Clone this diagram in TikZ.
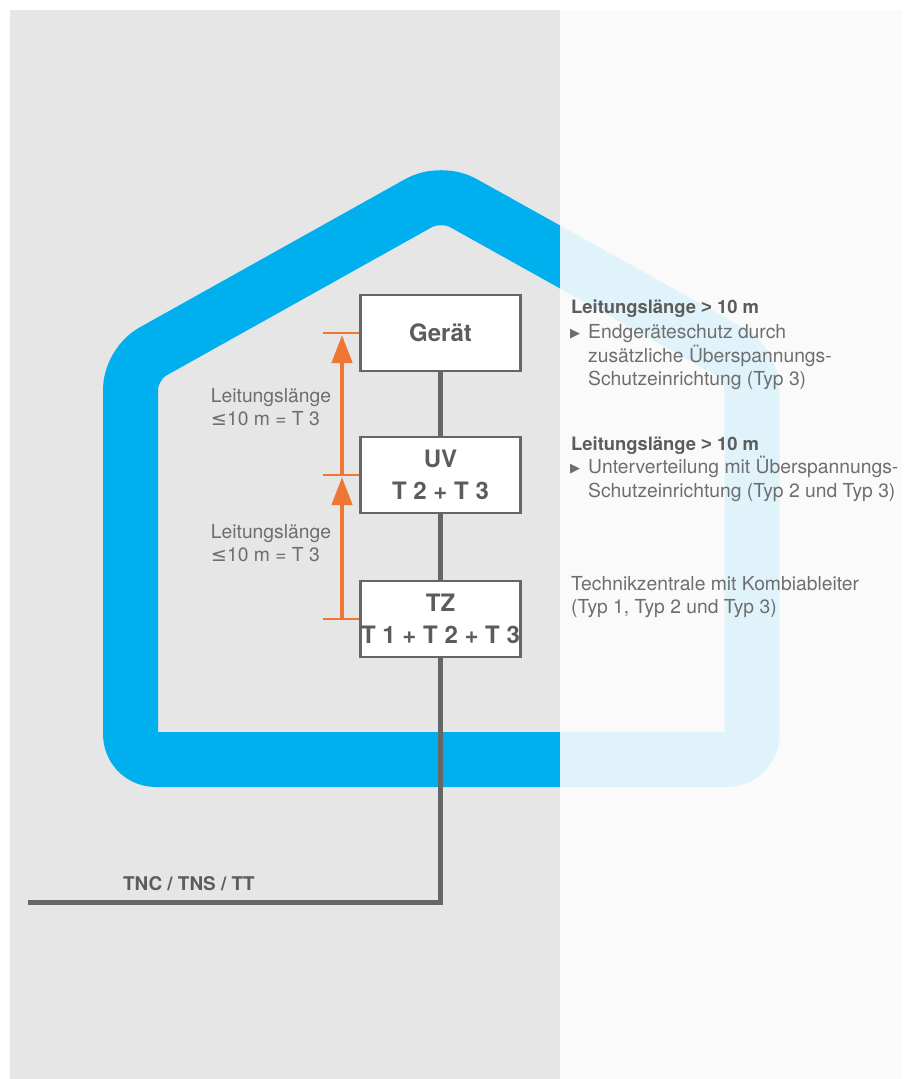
\documentclass[tikz,border=0pt]{standalone}
\usepackage{fontspec}
\setmainfont{TeX Gyre Heros}
\newfontfamily\symfont{DejaVu Sans}
\newfontfamily\libfont{Liberation Sans}
\usetikzlibrary{arrows.meta}
\definecolor{bggray}{HTML}{E6E6E6}
\definecolor{bglight}{HTML}{FAFAFA}
\definecolor{hblue}{HTML}{00B0EE}
\definecolor{hlight}{HTML}{E0F3FB}
\definecolor{wire}{HTML}{666666}
\definecolor{txt}{HTML}{6E6E6E}
\definecolor{txtb}{HTML}{5C5C5C}
\definecolor{orng}{HTML}{F07636}
\tikzset{
  housestroke/.style={line width=55pt, rounded corners=25pt, line join=round},
  box/.style={draw=wire, line width=2.5pt, fill=white, minimum width=160pt, minimum height=76pt,
    inner sep=0pt, font=\fontsize{24}{32}\selectfont\bfseries, text=txtb, align=center},
  lbl/.style={anchor=base west, inner sep=0pt, font=\fontsize{19.3}{24}\selectfont, text=txt},
  hd/.style={anchor=base west, inner sep=0pt, font=\fontsize{18.4}{24}\selectfont\bfseries, text=txtb},
  bul/.style={anchor=base west, inner sep=0pt, font=\symfont\fontsize{13}{13}\selectfont, text=txt},
  wireline/.style={draw=wire, line width=5pt},
  tickline/.style={draw=orng, line width=2pt},
  dimarrow/.style={draw=orng, line width=4.5pt, -{Triangle[width=20pt,length=28pt]}}
}
\begin{document}
\begin{tikzpicture}[x=1pt,y=-1pt]
\useasboundingbox (0,0) rectangle (911,1079);
\fill[white] (0,0) rectangle (911,1079);
% panels
\fill[bggray] (10,10) rectangle (560,1079);
\fill[bglight] (560,10) rectangle (902,1079);
% house
\begin{scope}
  \clip (0,0) rectangle (560,1079);
  \draw[housestroke, draw=hblue] (441,759.5) -- (130.5,759.5) -- (130.5,364) -- (441,190.6) -- (752,364) -- (752,759.5) -- cycle;
\end{scope}
\begin{scope}
  \clip (560,0) rectangle (911,1079);
  \draw[housestroke, draw=hlight] (441,759.5) -- (130.5,759.5) -- (130.5,364) -- (441,190.6) -- (752,364) -- (752,759.5) -- cycle;
\end{scope}
% boxes
\node[box] (geraet) at (440.5,333) {Gerät};
\node[box] (uv) at (440.5,475) {UV\\T 2 + T 3};
\node[box] (tz) at (440.5,619) {TZ\\T 1 + T 2 + T 3};
% wires
\coordinate (feed) at (28,902);
\draw[wireline] (geraet.south) -- (uv.north);
\draw[wireline] (uv.south) -- (tz.north);
\draw[wireline] (tz.south) |- (feed);
\node[hd, font=\fontsize{18.9}{24}\selectfont\bfseries] (netz) at (123,890) {TNC / TNS / TT};
% dimension ticks and arrows
\coordinate (t1) at (323,333);
\coordinate (t2) at (323,475);
\coordinate (t3) at (323,619);
\coordinate (a1s) at (342,619);
\coordinate (a1e) at (342,477);
\coordinate (a2s) at (342,475);
\coordinate (a2e) at (342,335);
\draw[tickline] (t1) -- (geraet.west);
\draw[tickline] (t2) -- (uv.west);
\draw[tickline] (t3) -- (tz.west);
\draw[dimarrow] (a1s) -- (a1e);
\draw[dimarrow] (a2s) -- (a2e);
% left labels
\node[lbl] (l1a) at (210.7,402) {Leitungslänge};
\node[lbl] (l1b) at (210.7,425) {{\symfont ≤}10 m = T 3};
\node[lbl] (l2a) at (210.7,538) {Leitungslänge};
\node[lbl] (l2b) at (210.7,561) {{\symfont ≤}10 m = T 3};
% right texts
\node[hd] (r1h) at (571,313) {Leitungslänge {\libfont\bfseries >} 10 m};
\node[bul] (r1t) at (570,337) {▶};
\node[lbl] (r1a) at (588,338) {Endgeräteschutz durch};
\node[lbl] (r1b) at (588,362) {zusätzliche Überspannungs-};
\node[lbl] (r1c) at (588,385) {Schutzeinrichtung (Typ 3)};
\node[hd] (r2h) at (571,450) {Leitungslänge {\libfont\bfseries >} 10 m};
\node[bul] (r2t) at (570,472) {▶};
\node[lbl] (r2a) at (588,473) {Unterverteilung mit Überspannungs-};
\node[lbl] (r2b) at (588,497) {Schutzeinrichtung (Typ 2 und Typ 3)};
\node[lbl] (r3a) at (571,590) {Technikzentrale mit Kombiableiter};
\node[lbl] (r3b) at (571,613) {(Typ 1, Typ 2 und Typ 3)};
\end{tikzpicture}
\end{document}
